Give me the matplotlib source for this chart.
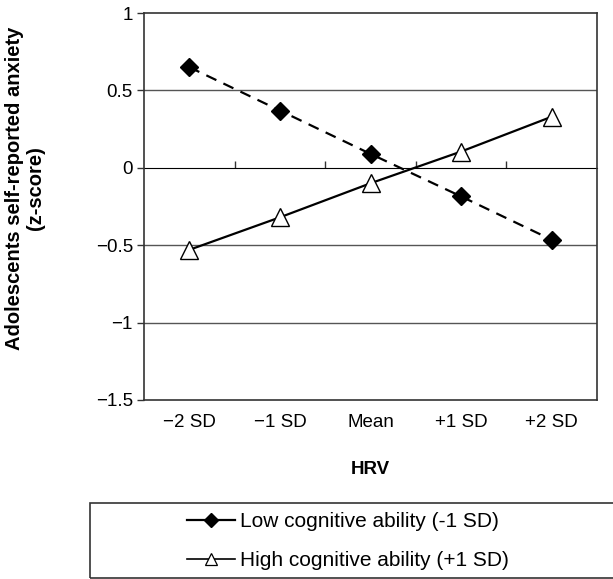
import matplotlib
matplotlib.use("Agg")
import matplotlib.pyplot as plt
from matplotlib.patches import Rectangle
from matplotlib.lines import Line2D

plt.rcParams['font.family'] = ['Liberation Sans', 'DejaVu Sans']

categories = ["\u22122 SD", "\u22121 SD", "Mean", "+1 SD", "+2 SD"]
low_cog = [0.65, 0.37, 0.09, -0.185, -0.465]
high_cog = [-0.53, -0.32, -0.10, 0.105, 0.33]
y_ticks = [1, 0.5, 0, -0.5, -1, -1.5]
y_tick_labels = ["1", "0.5", "0", "\u22120.5", "\u22121", "\u22121.5"]
series_names = ["Low cognitive ability (-1 SD)", "High cognitive ability (+1 SD)"]

fig = plt.figure(figsize=(6.13, 5.79), dpi=100)
ax = fig.add_axes([144/613, 1-400/579, (597-144)/613, (400-13)/579])

x = list(range(len(categories)))
ax.set_xlim(-0.5, len(categories) - 0.5)
ax.set_ylim(-1.5, 1)

for yv in [0.5, -0.5, -1]:
    ax.axhline(yv, color='#555555', lw=1.0, zorder=1)

ax.plot(x, low_cog, color='black', lw=1.6, ls=(0, (5, 3.5)), marker='D',
        ms=9.5, mfc='black', mec='black', zorder=3)
ax.plot(x, high_cog, color='black', lw=1.6, ls='-', marker='^',
        ms=13, mfc='white', mec='black', mew=1.0, zorder=3)

for s in ax.spines.values():
    s.set_color('#333333')
    s.set_linewidth(1.2)

ax.set_yticks(y_ticks)
ax.set_yticklabels(y_tick_labels, fontsize=13.5)
ax.tick_params(axis='y', direction='out', length=5, width=1, pad=3, color='#333333')

ax.set_xticks(x)
ax.set_xticklabels(categories, fontsize=13.5)
ax.tick_params(axis='x', length=0, pad=10)

sec = ax.secondary_xaxis(0.6)
sec.set_xticks([i + 0.5 for i in range(len(categories) - 1)])
sec.set_xticklabels([])
sec.tick_params(axis='x', direction='out', length=5, width=1, color='#333333')
sec.spines['bottom'].set_color('#333333')
sec.spines['bottom'].set_linewidth(1.2)

fig.text(370/613, 1-470/579, "HRV", ha='center', va='center', fontsize=13.5, fontweight='bold')
fig.text(25/613, 1-188/579, "Adolescents self-reported anxiety\n(z-score)", rotation=90,
         ha='center', va='center', fontsize=14.5, fontweight='bold', linespacing=1.15)

fig.patches.append(Rectangle((90/613, 1-578/579), 530/613, 75/579, transform=fig.transFigure,
                             fill=False, edgecolor='#333333', lw=1.2))

handles = [Line2D([], [], color='black', lw=1.6, marker='D', ms=7, mfc='black', mec='black'),
           Line2D([], [], color='black', lw=1.2, marker='^', ms=9, mfc='white', mec='black', mew=0.9)]
fig.legend(handles, series_names, loc='center', bbox_to_anchor=(348/613, 1-541/579),
           frameon=False, fontsize=15, handlelength=2.3, handletextpad=0.25, labelspacing=0.95)

fig.savefig("out.png", dpi=100)
